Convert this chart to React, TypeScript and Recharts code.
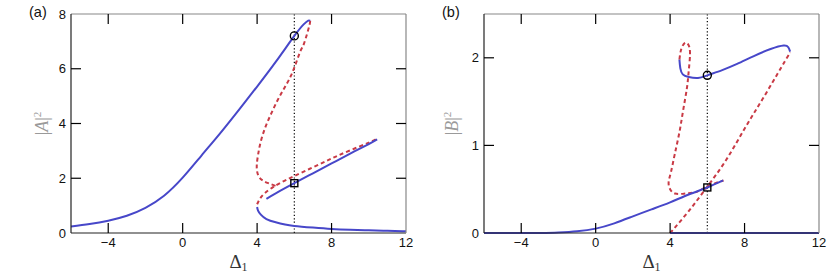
import { ComposedChart, Line, XAxis, YAxis, ReferenceLine, ReferenceDot } from "recharts";

type Pt = [number, number];

// panel (a): |A|^2 against Delta_1
const aBlueMain: Pt[] = [
  [-6, 0.24], [-5, 0.33], [-4, 0.45], [-3, 0.63], [-2, 0.92], [-1, 1.36], [0, 2.02], [1, 2.82],
  [2, 3.63], [3, 4.48], [4, 5.35], [5, 6.25], [6, 7.2], [6.5, 7.62], [6.75, 7.76], [6.85, 7.75],
];
const aRedUpper: Pt[] = [
  [6.85, 7.75], [6.79, 7.53], [6.52, 6.92], [6.35, 6.68], [6.08, 6.19], [5.8, 5.72], [5.45, 5.28],
  [5.1, 4.85], [4.75, 4.35], [4.45, 3.88], [4.2, 3.35], [4.05, 2.85], [3.98, 2.4], [4.08, 2.08],
  [4.3, 1.92], [4.6, 1.82], [5.0, 1.72],
];
const aRedLower: Pt[] = [
  [4.0, 1.05], [4.15, 1.25], [4.4, 1.45], [4.8, 1.65], [5.3, 1.85], [6, 2.08], [7, 2.4], [8, 2.72],
  [9, 3.02], [10, 3.3], [10.5, 3.47],
];
const aBlueMid: Pt[] = [
  [4.5, 1.25], [5, 1.45], [6, 1.82], [7, 2.18], [8, 2.54], [9, 2.9], [10, 3.25], [10.45, 3.42],
];
const aBlueLow: Pt[] = [
  [4.0, 0.95], [4.05, 0.82], [4.2, 0.67], [4.5, 0.51], [5, 0.39], [5.5, 0.31], [6, 0.26], [7, 0.2],
  [8, 0.15], [9, 0.12], [10, 0.1], [11, 0.08], [12, 0.06],
];
const aCircle: Pt = [6, 7.2];
const aSquare: Pt = [6, 1.82];

// panel (b): |B|^2 against Delta_1
const bBlueLow: Pt[] = [
  [-6, 0], [-3, 0], [-2, 0.005], [-1, 0.02], [0, 0.05], [1, 0.11], [2, 0.19], [3, 0.27], [4, 0.35],
  [5, 0.44], [6, 0.52], [6.85, 0.6],
];
const bBlueFloor: Pt[] = [[4, 0], [12, 0]];
const bRedDiag: Pt[] = [
  [4, 0], [5, 0.25], [6, 0.53], [7, 0.83], [8, 1.19], [9, 1.54], [10, 1.9], [10.45, 2.06],
];
const bBlueTop: Pt[] = [
  [4.5, 1.98], [4.55, 1.88], [4.68, 1.81], [5.0, 1.78], [5.5, 1.77], [6, 1.8], [6.8, 1.86],
  [7.6, 1.93], [8.5, 2.02], [9.4, 2.1], [10.1, 2.14], [10.35, 2.12], [10.45, 2.07],
];
const bRedLoop: Pt[] = [
  [4.5, 1.98], [4.6, 2.1], [4.8, 2.17], [4.98, 2.15], [5.07, 2.05], [5.0, 1.85], [4.9, 1.65],
  [4.7, 1.4], [4.5, 1.15], [4.25, 0.9], [4.05, 0.7], [3.92, 0.58], [4.0, 0.5], [4.27, 0.45],
  [4.8, 0.45], [5.43, 0.47], [5.97, 0.53], [6.87, 0.6],
];
const bCircle: Pt = [6, 1.8];
const bSquare: Pt = [6, 0.52];

const xTicks = [-4, 0, 4, 8, 12];
const aYTicks = [0, 2, 4, 6, 8];
const bYTicks = [0, 1, 2];
const markerX = 6;

const BLUE = "#4747c9";
const RED = "#c93a45";
const W = 415;
const H = 273;
const TOP = 14;
const BOTTOM = 233;
const SANS = "'Liberation Sans', Arial, sans-serif";
const SERIF = "'Liberation Serif', 'Times New Roman', serif";

const toRows = (pts: Pt[]) => pts.map(([x, y]) => ({ x, y }));
const fmt = (v: number) => (v < 0 ? "\u2212" + Math.abs(v) : String(v));

type PanelProps = {
  tag: string;
  letter: string;
  left: number;
  right: number;
  yMax: number;
  yTicks: number[];
  yLabelX: number;
  blue: Pt[][];
  red: Pt[][];
  circle: Pt;
  square: Pt;
};

function Panel({ tag, letter, left, right, yMax, yTicks, yLabelX, blue, red, circle, square }: PanelProps) {
  const plotRight = W - right;

  const XTick = ({ x, payload }: any) => {
    const v = payload.value;
    const inner = v > -6 && v < 12;
    return (
      <g>
        {inner && <line x1={x} x2={x} y1={BOTTOM} y2={BOTTOM - 10} stroke="#000" strokeWidth={1.2} />}
        {inner && <line x1={x} x2={x} y1={TOP} y2={TOP + 10} stroke="#000" strokeWidth={1.2} />}
        <text x={x} y={BOTTOM + 14} textAnchor="middle" fontFamily={SANS} fontSize={13} fill="#111">
          {fmt(v)}
        </text>
      </g>
    );
  };

  const YTick = ({ y, payload }: any) => {
    const v = payload.value;
    const inner = v > 0 && v < yMax;
    return (
      <g>
        {inner && <line x1={left} x2={left + 10} y1={y} y2={y} stroke="#000" strokeWidth={1.2} />}
        {inner && <line x1={plotRight - 10} x2={plotRight} y1={y} y2={y} stroke="#000" strokeWidth={1.2} />}
        <text x={left - 5} y={y + 4.5} textAnchor="end" fontFamily={SANS} fontSize={13} fill="#111">
          {fmt(v)}
        </text>
      </g>
    );
  };

  const xLabel = () => (
    <g>
      <text x={(left + plotRight) / 2} y={268} textAnchor="middle" fontFamily={SERIF} fontSize={19} fill="#333">
        Δ<tspan fontSize={12} dy={3}>1</tspan>
      </text>
      <text x={left - 42} y={17} fontFamily={SANS} fontSize={14.5} fill="#111">
        {tag}
      </text>
    </g>
  );

  const yLabel = () => (
    <text
      transform={`translate(${yLabelX},${(TOP + BOTTOM) / 2}) rotate(-90)`}
      textAnchor="middle"
      fontFamily={SERIF}
      fontSize={18}
      fill="#9a9a9a"
      dy={5}
    >
      |<tspan fontStyle="italic">{letter}</tspan>|<tspan fontSize={11} dy={-7}>2</tspan>
    </text>
  );

  // axes are 1px thick so that recharts still draws them
  return (
    <ComposedChart width={W} height={H} margin={{ top: TOP - 1, right: right - 1, bottom: H - BOTTOM - 1, left: left - 1 }}>
      <XAxis
        xAxisId={0}
        type="number"
        dataKey="x"
        domain={[-6, 12]}
        ticks={xTicks}
        height={1}
        tickLine={false}
        tickSize={0}
        axisLine={{ stroke: "#222", strokeWidth: 1.2 }}
        tick={<XTick />}
        interval={0}
        label={xLabel}
      />
      <XAxis
        xAxisId="top"
        orientation="top"
        type="number"
        domain={[-6, 12]}
        height={1}
        tick={false}
        tickLine={false}
        axisLine={{ stroke: "#888", strokeWidth: 1.2 }}
      />
      <YAxis
        yAxisId={0}
        type="number"
        domain={[0, yMax]}
        ticks={yTicks}
        width={1}
        tickLine={false}
        tickSize={0}
        axisLine={{ stroke: "#222", strokeWidth: 1.2 }}
        tick={<YTick />}
        interval={0}
        label={yLabel}
      />
      <YAxis
        yAxisId="right"
        orientation="right"
        type="number"
        domain={[0, yMax]}
        width={1}
        tick={false}
        tickLine={false}
        axisLine={{ stroke: "#888", strokeWidth: 1.2 }}
      />
      <ReferenceLine x={markerX} stroke="#000" strokeWidth={1.2} strokeDasharray="1.2 2.2" />
      {red.map((pts, i) => (
        <Line
          key={"r" + i}
          data={toRows(pts)}
          dataKey="y"
          type="natural"
          stroke={RED}
          strokeWidth={2}
          strokeDasharray="4 3"
          dot={false}
          activeDot={false}
          isAnimationActive={false}
        />
      ))}
      {blue.map((pts, i) => (
        <Line
          key={"b" + i}
          data={toRows(pts)}
          dataKey="y"
          type="natural"
          stroke={BLUE}
          strokeWidth={2}
          dot={false}
          activeDot={false}
          isAnimationActive={false}
        />
      ))}
      <ReferenceDot x={circle[0]} y={circle[1]} r={4} fill="none" stroke="#000" strokeWidth={1.4} />
      <ReferenceDot
        x={square[0]}
        y={square[1]}
        r={3.5}
        shape={(p: any) => (
          <rect x={p.cx - 3.5} y={p.cy - 3.5} width={7} height={7} fill="none" stroke="#000" strokeWidth={1.4} />
        )}
      />
    </ComposedChart>
  );
}

export default function App() {
  return (
    <div style={{ position: "absolute", left: 0, top: 0, width: 830, height: 273, display: "flex", background: "#fff" }}>
      <Panel
        tag="(a)"
        letter="A"
        left={71}
        right={9}
        yMax={8}
        yTicks={aYTicks}
        yLabelX={43}
        blue={[aBlueMain, aBlueMid, aBlueLow]}
        red={[aRedUpper, aRedLower]}
        circle={aCircle}
        square={aSquare}
      />
      <Panel
        tag="(b)"
        letter="B"
        left={69}
        right={11}
        yMax={2.5}
        yTicks={bYTicks}
        yLabelX={38}
        blue={[bBlueLow, bBlueFloor, bBlueTop]}
        red={[bRedDiag, bRedLoop]}
        circle={bCircle}
        square={bSquare}
      />
    </div>
  );
}
